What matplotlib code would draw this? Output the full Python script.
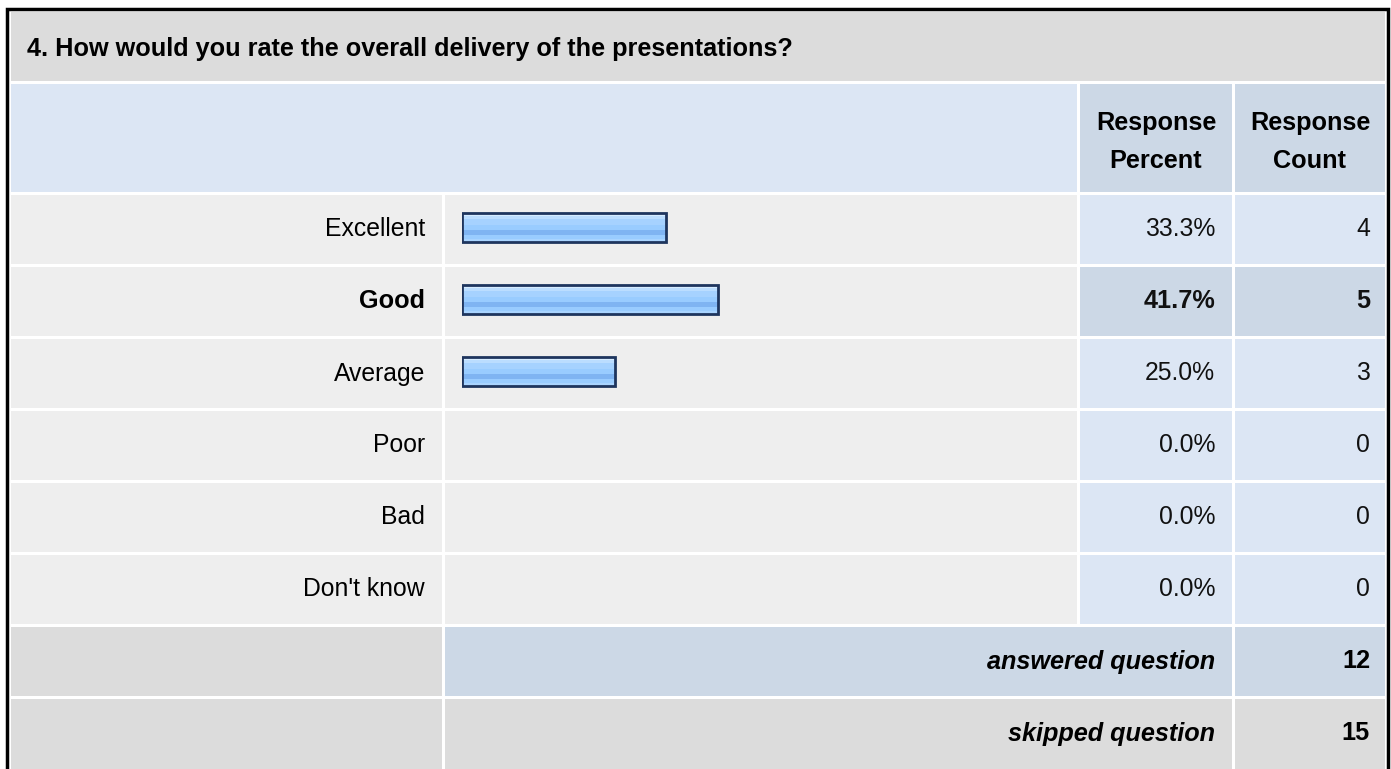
import matplotlib
matplotlib.use("Agg")
import matplotlib.pyplot as plt
from matplotlib.patches import Rectangle

# survey data
QUESTION = "4. How would you rate the overall delivery of the presentations?"
categories = ["Excellent", "Good", "Average", "Poor", "Bad", "Don't know"]
percents = [33.3, 41.7, 25.0, 0.0, 0.0, 0.0]
counts = [4, 5, 3, 0, 0, 0]
answered = 12
skipped = 15
header_labels = ["Response\nPercent", "Response\nCount"]

W, H = 1391, 769
DPI = 100

GREY = "#DCDCDC"
LIGHT = "#EEEEEE"
BLUE = "#DCE6F4"
BLUE_DARK = "#CCD8E6"

plt.rcParams["font.family"] = ["Liberation Sans", "DejaVu Sans"]
FS = 17.8      # regular text
FS_B = 18.2    # bold text

fig = plt.figure(figsize=(W / DPI, H / DPI), dpi=DPI)
fig.patch.set_facecolor("white")
ax = fig.add_axes([0, 0, 1, 1])
ax.set_xlim(0, W)
ax.set_ylim(H, 0)
ax.axis("off")

# column edges (pixels)
col_x = [11, 445, 1080, 1235]
col_w = [431, 632, 152, 150]
row_top0 = 195
row_h = 69
row_step = 72


def cell(x, y, w, h, color):
    ax.add_patch(Rectangle((x, y), w, h, facecolor=color, edgecolor="none"))


# outer frame
ax.plot([6.5, 6.5, 1388, 1388], [H + 5, 8.5, 8.5, H + 5], color="black", lw=2.5,
        solid_joinstyle="miter", clip_on=False)

# title row
cell(11, 12, 1374, 69, GREY)
ax.text(27, 49, QUESTION, fontsize=FS_B, fontweight="bold", va="center", ha="left")

# header row
cell(11, 84, 1066, 108, BLUE)
cell(col_x[2], 84, col_w[2], 108, BLUE_DARK)
cell(col_x[3], 84, col_w[3], 108, BLUE_DARK)
for i, lab in enumerate(header_labels):
    ax.text(col_x[2 + i] + col_w[2 + i] / 2, 142, lab, fontsize=FS_B, fontweight="bold",
            ha="center", va="center", linespacing=1.75)

best = counts.index(max(counts))

for i, (cat, pct, cnt) in enumerate(zip(categories, percents, counts)):
    y = row_top0 + i * row_step
    yc = y + row_h / 2
    hi = i == best
    cell(col_x[0], y, col_w[0], row_h, LIGHT)
    cell(col_x[1], y, col_w[1], row_h, LIGHT)
    cell(col_x[2], y, col_w[2], row_h, BLUE_DARK if hi else BLUE)
    cell(col_x[3], y, col_w[3], row_h, BLUE_DARK if hi else BLUE)
    weight = "bold" if hi else "normal"
    size = FS_B if hi else FS
    ax.text(425, yc, cat, fontsize=size, fontweight=weight, ha="right", va="center")
    ax.text(1215, yc, f"{pct:.1f}%", fontsize=size, fontweight=weight, ha="right", va="center",
            color="#111111")
    ax.text(1370, yc, f"{cnt}", fontsize=size, fontweight=weight, ha="right", va="center",
            color="#111111")

# summary rows
y = row_top0 + 6 * row_step
cell(col_x[0], y, col_w[0], row_h, GREY)
cell(col_x[1], y, col_x[3] - col_x[1] - 3, row_h, BLUE_DARK)
cell(col_x[3], y, col_w[3], row_h, BLUE_DARK)
ax.text(1215, y + row_h / 2, "answered question", fontsize=FS_B, fontweight="bold",
        fontstyle="italic", ha="right", va="center")
ax.text(1370, y + row_h / 2, f"{answered}", fontsize=FS_B, fontweight="bold",
        ha="right", va="center")

y = row_top0 + 7 * row_step
cell(col_x[0], y, col_w[0], H - y + 5, GREY)
cell(col_x[1], y, col_x[3] - col_x[1] - 3, H - y + 5, GREY)
cell(col_x[3], y, col_w[3], H - y + 5, GREY)
ax.text(1215, y + row_h / 2, "skipped question", fontsize=FS_B, fontweight="bold",
        fontstyle="italic", ha="right", va="center")
ax.text(1370, y + row_h / 2, f"{skipped}", fontsize=FS_B, fontweight="bold",
        ha="right", va="center")

# bar axes: 0-100 % across the bar column
bx0, bw = 462, 613
by0 = 193
ax_bar = fig.add_axes([bx0 / W, 1 - (by0 + 6 * row_step) / H, bw / W, 6 * row_step / H])
ax_bar.set_xlim(0, 100)
ax_bar.set_ylim(6, 0)
ax_bar.axis("off")
ax_bar.patch.set_alpha(0)

pos = [i + 0.5 for i, p in enumerate(percents) if p > 0]
vals = [p for p in percents if p > 0]
bar_h = 29 / row_step
# glossy stripes, top to bottom
bands = [(0.10, "#D6ECFF"), (0.12, "#BBDDFF"), (0.18, "#A6D2FF"), (0.18, "#99CCFF"),
         (0.16, "#7FB4F2"), (0.14, "#99CCFF"), (0.12, "#A9D4FF")]
top = [c - bar_h / 2 - 0.02 for c in pos]
off = 0.0
for frac, color in bands:
    h = frac * bar_h
    ax_bar.barh([t + off + h / 2 for t in top], vals, height=h, left=0, color=color,
                edgecolor="none")
    off += h
ax_bar.barh([t + bar_h / 2 for t in top], vals, height=bar_h, left=0, fill=False,
            edgecolor="#1E355E", linewidth=2)

fig.savefig("out.png", dpi=DPI)
